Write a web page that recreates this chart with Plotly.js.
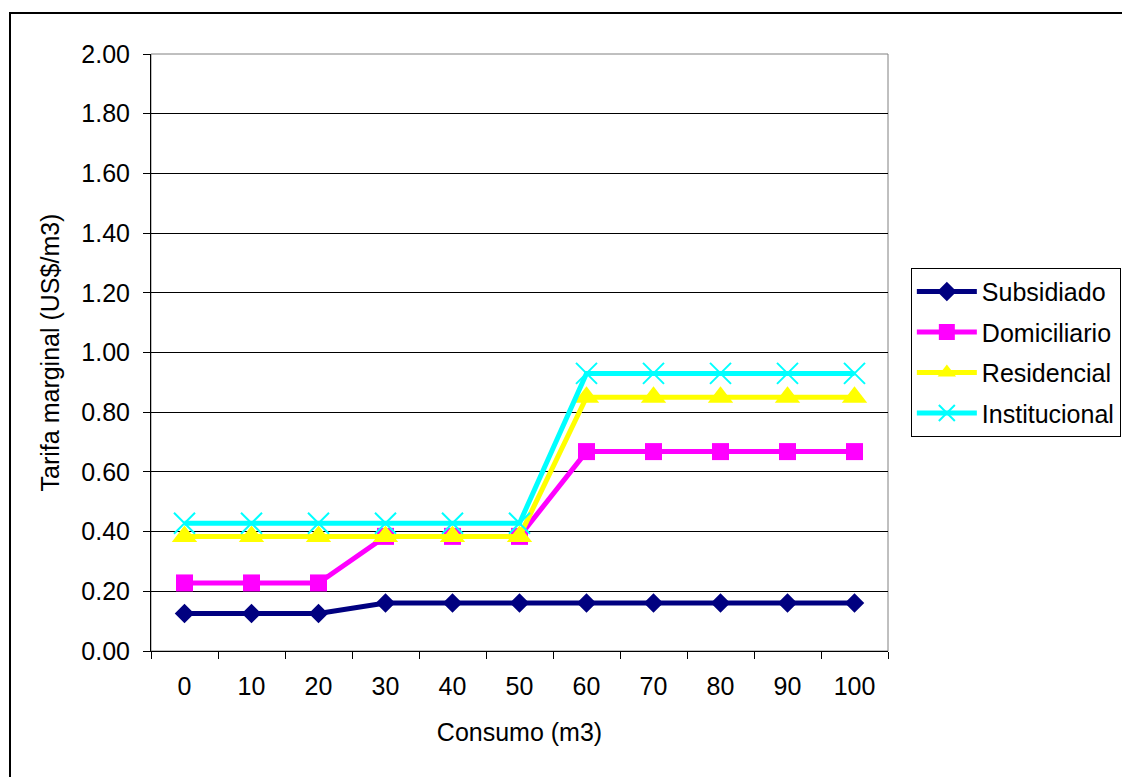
<!DOCTYPE html>
<html><head><meta charset="utf-8">
<script src="https://cdn.plot.ly/plotly-3.0.1.min.js"></script>
<style>html,body{margin:0;padding:0;background:#fff;overflow:hidden}
#frame{position:absolute;left:9px;top:12px;width:1130px;height:780px;border:2px solid #000;box-sizing:border-box;pointer-events:none;z-index:5}
#chart{position:absolute;left:0;top:0;width:1122px;height:777px}</style>
</head><body>
<div id="chart"></div><div id="frame"></div>
<script>
const categories = ["0","10","20","30","40","50","60","70","80","90","100"];
const subsidiado   = [0.126,0.126,0.126,0.161,0.161,0.161,0.161,0.161,0.161,0.161,0.161];
const domiciliario = [0.228,0.228,0.228,0.384,0.384,0.384,0.668,0.668,0.668,0.668,0.668];
const residencial  = [0.384,0.384,0.384,0.384,0.384,0.384,0.850,0.850,0.850,0.850,0.850];
const institucional= [0.428,0.428,0.428,0.428,0.428,0.428,0.930,0.930,0.930,0.930,0.930];
const yTicks = [0,0.2,0.4,0.6,0.8,1.0,1.2,1.4,1.6,1.8,2.0];

const font = "Liberation Sans, Arial, sans-serif";
const FS = 25;
const traces = [
  {name:"Subsidiado", y:subsidiado, line:{color:"#000080",width:5}, marker:{symbol:"diamond",size:15,color:"#000080"}},
  {name:"Domiciliario", y:domiciliario, line:{color:"#FF00FF",width:5}, marker:{symbol:"square",size:17,color:"#FF00FF"}},
  {name:"Residencial", y:residencial, line:{color:"#FFFF00",width:5}, marker:{symbol:"triangle-up",size:22,color:"#FFFF00"}},
  {name:"Institucional", y:institucional, line:{color:"#00FFFF",width:5}, marker:{symbol:"x-thin",size:21,line:{color:"#00FFFF",width:2},color:"#00FFFF"}}
].map((t,i) => Object.assign({type:"scatter", mode:"lines+markers", x:categories, cliponaxis:false, legendgroup:"g"+i}, t));

const layout = {
  width:1122, height:777,
  margin:{l:151, r:234, t:54, b:126, autoexpand:false},
  paper_bgcolor:"#fff", plot_bgcolor:"#fff",
  font:{family:font, size:FS, color:"#000"},
  showlegend:true,
  legend:{x:1.031, y:0.642, xanchor:"left", yanchor:"top", bordercolor:"#000", borderwidth:1,
          font:{family:font,size:FS,color:"#000"}, tracegroupgap:5, traceorder:"grouped", itemwidth:60,
          entrywidth:160, entrywidthmode:"pixels", bgcolor:"#fff"},
  xaxis:{type:"category", categoryarray:categories, tickson:"boundaries", ticks:"outside", ticklen:7,
         tickcolor:"#000", showgrid:false, showline:true, linecolor:"#000", linewidth:1, mirror:false,
         tickfont:{family:font,size:FS}, ticklabelstandoff:13,
         title:{text:"Consumo (m3)", font:{family:font,size:FS}, standoff:24},
         range:[-0.5,10.5], zeroline:false},
  yaxis:{range:[0,2], tickvals:yTicks, ticktext:yTicks.map(v=>v.toFixed(2)), ticks:"outside", ticklen:7,
         tickcolor:"#000", showgrid:true, gridcolor:"#000", gridwidth:1, showline:true, linecolor:"#000",
         zeroline:false, tickfont:{family:font,size:FS}, ticklabelstandoff:8,
         title:{text:"Tarifa marginal (US$/m3)", font:{family:font,size:FS}, standoff:14}},
  shapes:[{type:"rect", xref:"paper", yref:"paper", x0:0, x1:1, y0:0, y1:1, line:{color:"#808080",width:1}, layer:"below"}]
};
Plotly.newPlot("chart", traces, layout, {displayModeBar:false, staticPlot:true});
</script>
</body></html>
